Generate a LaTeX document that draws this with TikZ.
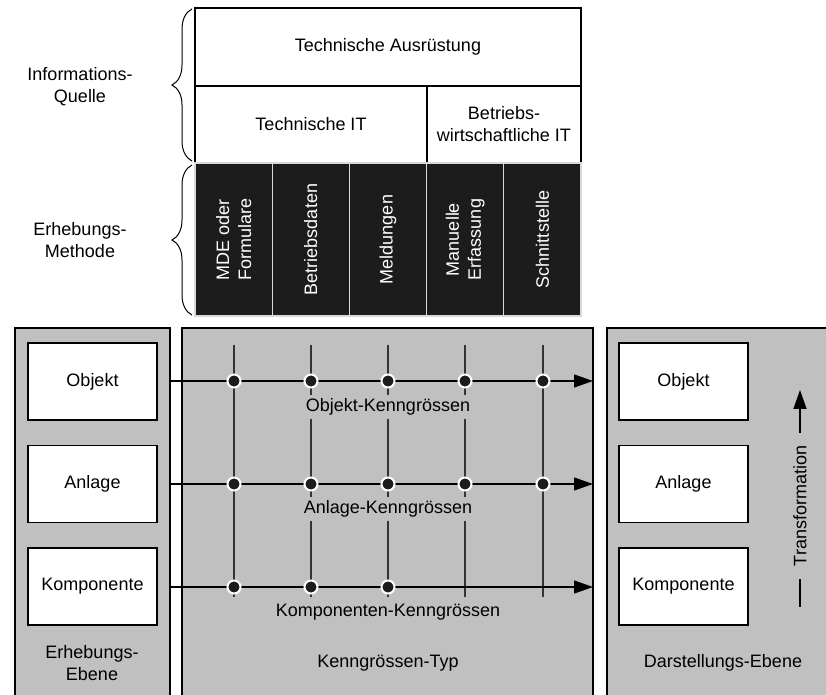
\documentclass[tikz,border=0pt]{standalone}
\usepackage{fontspec}
\setmainfont{Liberation Sans}
\usetikzlibrary{decorations.pathreplacing,arrows.meta}
\definecolor{panelgray}{RGB}{192,192,192}
\definecolor{methodblack}{RGB}{28,28,28}

\begin{document}
\begin{tikzpicture}[x=0.5pt, y=-0.5pt, font=\fontsize{9}{11}\selectfont,
  frame/.style={draw=black, line width=0.75pt},
  levelbox/.style={frame, fill=white, minimum width=64.5pt, minimum height=38.5pt, inner sep=0pt},
  gridline/.style={black!80, line width=0.6pt},
  flow/.style={black, line width=0.6pt, -{Triangle[length=9.5pt, width=6.5pt]}},
  hit/.style={circle, fill=methodblack, draw=white, line width=1pt, minimum size=6.5pt, inner sep=0pt},
  gaplabel/.style={fill=panelgray, inner sep=2pt},
  bracket/.style={decorate, decoration={brace, amplitude=10pt}, line width=0.5pt}]

\clip (0,0) rectangle (826,695);

\def\colw{77.2}
\def\colx{195}

% information source
\draw[frame, fill=white] (195,8) rectangle (581,86)    node[pos=.5] (equip) {Technische Ausrüstung};
\draw[frame, fill=white] (195,86) rectangle (427,163)  node[pos=.5] (techit) {Technische IT};
\draw[frame, fill=white] (427,86) rectangle (581,163)  node[pos=.5, align=center] (bwit) {Betriebs-\\wirtschaftliche IT};

% collection methods
\foreach \i/\txt in {0/{MDE oder\\Formulare}, 1/{Betriebsdaten}, 2/{Meldungen}, 3/{Manuelle\\Erfassung}, 4/{Schnittstelle}} {
  \draw[fill=methodblack, draw=black!15, line width=0.6pt] (\colx+\i*\colw,163) rectangle (\colx+\i*\colw+\colw,316)
    node[pos=.5, rotate=90, white, align=center] (meth\i) {\txt};
}

% braces on the left
\draw[bracket] (192,161) -- (192,9);
\draw[bracket] (192,315) -- (192,165);
\node[align=center] (srclabel) at (80,87) {Informations-\\Quelle};
\node[align=center] (methlabel) at (80,240) {Erhebungs-\\Methode};

% panels
\draw[frame, fill=panelgray] (15,328) rectangle (170,700);
\draw[frame, fill=panelgray] (182,328) rectangle (593,700);
\fill[panelgray] (607,328) rectangle (830,700);
\draw[frame] (607,700) -- (607,328) -- (830,328);

% levels on both sides
\foreach \lvl/\y in {Objekt/381.5, Anlage/484, Komponente/586.5} {
  \node[levelbox] (in-\lvl) at (92.5,\y) {\lvl};
  \node[levelbox] (out-\lvl) at (683.5,\y) {\lvl};
}

% grid of key figures
\foreach \x in {234, 311, 388, 465, 543}
  \draw[gridline] (\x,345) -- (\x,597);

\foreach \row/\y in {1/381, 2/484, 3/587} {
  \coordinate (src\row) at (170,\y);
  \coordinate (dst\row) at (593,\y);
  \draw[flow] (src\row) -- (dst\row);
}

\node[gaplabel] (kobj) at (388,407) {Objekt-Kenngrössen};
\node[gaplabel] (kanl) at (388,509) {Anlage-Kenngrössen};
\node[gaplabel] (kkomp) at (388,612) {Komponenten-Kenngrössen};

\foreach \x in {234, 311, 388, 465, 543} {
  \node[hit] at (\x,381) {};
  \node[hit] at (\x,484) {};
}
\foreach \x in {234, 311, 388}
  \node[hit] at (\x,587) {};

% transformation arrow
\coordinate (tlow) at (800,607);
\coordinate (thigh) at (800,390);
\draw[flow, line width=0.75pt] (tlow) -- (thigh);
\node[rotate=90, fill=panelgray, inner xsep=6.5pt, inner ysep=2pt] (trans) at (800,506) {Transformation};

% panel captions
\node[align=center] (capleft) at (92,663) {Erhebungs-\\Ebene};
\node (capmid) at (388,663) {Kenngrössen-Typ};
\node (capright) at (723,663) {Darstellungs-Ebene};

\end{tikzpicture}
\end{document}
